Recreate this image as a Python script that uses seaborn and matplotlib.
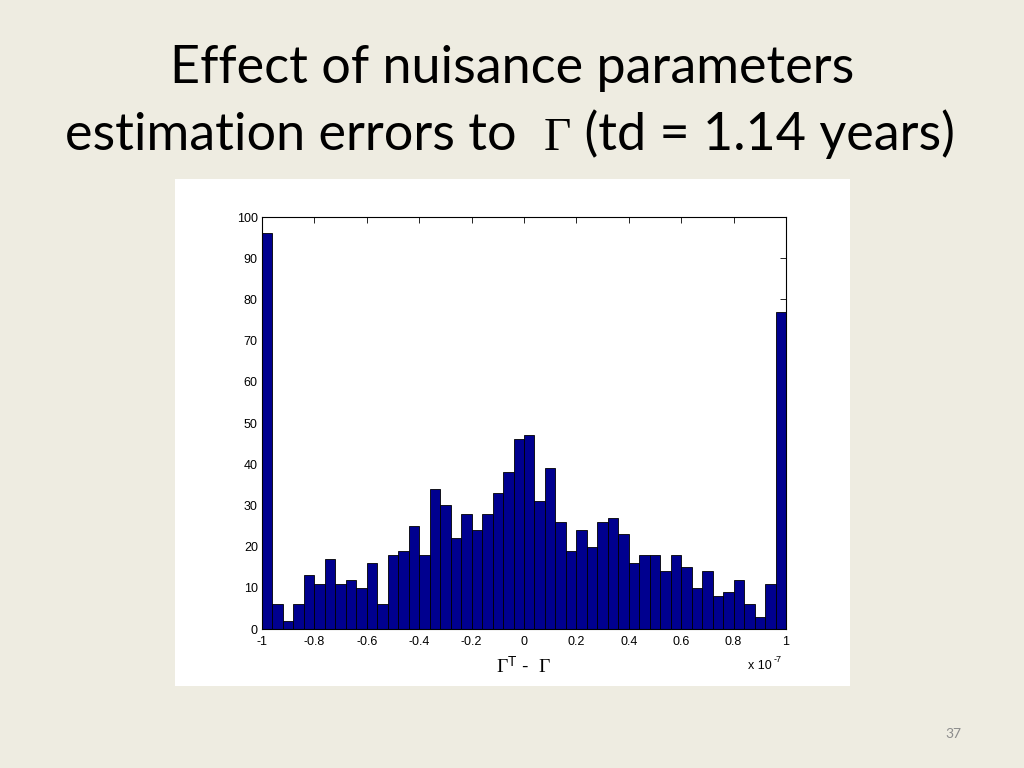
import numpy as np
import pandas as pd
import matplotlib
matplotlib.use("Agg")
import matplotlib.pyplot as plt
import seaborn as sns

# ---- data ----
bin_start = -1.0
bin_end = 1.0
bin_width = 0.04
counts = [96, 6, 2, 6, 13, 11, 17, 11, 12, 10,
          16, 6, 18, 19, 25, 18, 34, 30, 22, 28,
          24, 28, 33, 38, 46, 47, 31, 39, 26, 19,
          24, 20, 26, 27, 23, 16, 18, 18, 14, 18,
          15, 10, 14, 8, 9, 12, 6, 3, 11, 77]
xticks = [-1, -0.8, -0.6, -0.4, -0.2, 0, 0.2, 0.4, 0.6, 0.8, 1]
xtick_labels = ["-1", "-0.8", "-0.6", "-0.4", "-0.2", "0", "0.2", "0.4", "0.6", "0.8", "1"]
yticks = [0, 10, 20, 30, 40, 50, 60, 70, 80, 90, 100]

centers = bin_start + bin_width * (np.arange(len(counts)) + 0.5)
df = pd.DataFrame({"x": centers, "w": counts})

sns.set_theme(style="white")
plt.rcParams['font.family'] = ['Liberation Sans', 'DejaVu Sans']
plt.rcParams['axes.unicode_minus'] = False
plt.rcParams['mathtext.fontset'] = 'custom'
plt.rcParams['mathtext.rm'] = 'Liberation Serif'
plt.rcParams['mathtext.it'] = 'Liberation Serif'
plt.rcParams['mathtext.sf'] = 'Liberation Sans'

BG = "#EEECE1"
fig = plt.figure(figsize=(10.24, 7.68), dpi=100, facecolor=BG)

# white picture panel
panel = fig.add_axes([175/1024, 1-686/768, (850-175)/1024, (686-179)/768])
panel.set_facecolor("white")
panel.set_xticks([]); panel.set_yticks([])
for s in panel.spines.values():
    s.set_visible(False)

ax = fig.add_axes([262/1024, 1-629/768, (786-262)/1024, (629-217)/768])
ax.set_facecolor("white")
sns.histplot(data=df, x="x", weights="w", binwidth=bin_width,
             binrange=(bin_start, bin_end), ax=ax,
             color="#00008F", edgecolor="black", linewidth=0.6, alpha=1.0)
ax.set_xlim(-1, 1)
ax.set_ylim(0, 100)
ax.set_xticks(xticks)
ax.set_xticklabels(xtick_labels, fontsize=9)
ax.set_yticks(yticks)
ax.set_yticklabels([str(v) for v in yticks], fontsize=9)
ax.tick_params(direction="in", length=4, width=0.6, top=True, right=True,
               bottom=True, left=True, colors="black")
ax.tick_params(axis="x", pad=5)
ax.tick_params(axis="y", pad=3)
ax.set_ylabel("")
ax.set_xlabel("")
for s in ax.spines.values():
    s.set_visible(True)
    s.set_color("black")
    s.set_linewidth(0.8)

fig.text(524/1024, 1-666/768, r"$\Gamma^{\mathsf{T}}$ -  $\Gamma$", ha="center", va="center",
         fontsize=14, color="black")
fig.text(748/1024, 1-666/768, "x 10", ha="left", va="center",
         fontsize=9, color="black")
fig.text(774/1024, 1-659/768, "-7", ha="left", va="center",
         fontsize=6.5, color="black")

# titles
title_font = "Lato"
fig.text(512/1024, 1-83/768, "Effect of nuisance parameters", ha="center",
         va="baseline", fontsize=37.5, family=title_font, color="black")

renderer = fig.canvas.get_renderer()
parts = [("estimation errors to  ", title_font, 37.5),
         ("\u0393", "Liberation Serif", 34),
         (" (td = 1.14 years)", title_font, 37.5)]
texts = []
widths = []
for s, fam, fs in parts:
    t = fig.text(0, 1-150/768, s, ha="left", va="baseline", fontsize=fs, family=fam, color="black")
    bb = t.get_window_extent(renderer=renderer)
    texts.append(t)
    widths.append(bb.width)
total = sum(widths)
x0 = 510 - total / 2
for t, w in zip(texts, widths):
    t.set_x(x0 / 1024)
    x0 += w

fig.text(953/1024, 1-734/768, "37", ha="center", va="center", fontsize=10,
         family=title_font, color="#8C8C8C")

fig.savefig("out.png", dpi=100, facecolor=BG)
